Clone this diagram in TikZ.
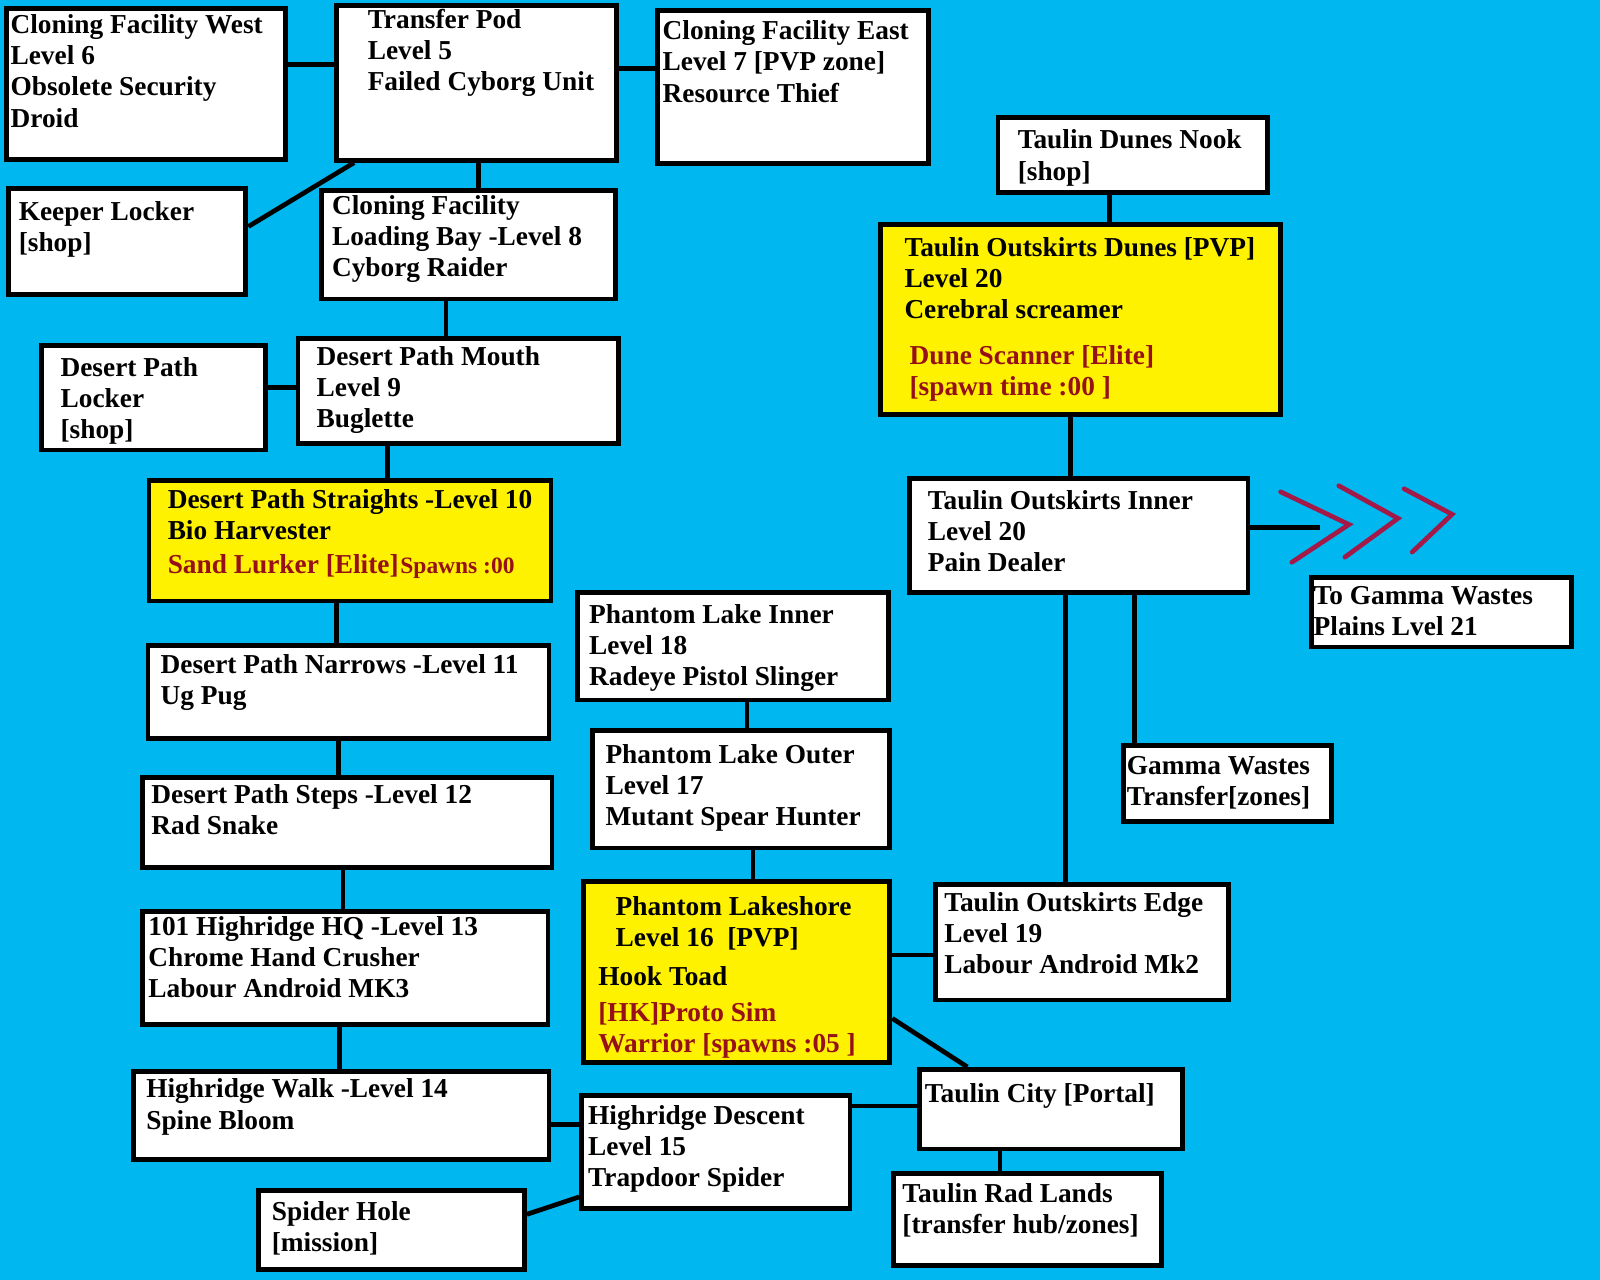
\documentclass[tikz,border=0pt]{standalone}
\usepackage{fontspec}
\setmainfont{Liberation Serif}
\usetikzlibrary{fit}
\definecolor{bgblue}{RGB}{0,183,239}
\definecolor{paintyellow}{RGB}{255,242,0}
\definecolor{elitered}{RGB}{150,16,24}
\definecolor{chevcol}{RGB}{163,25,72}
\tikzset{
  box/.style={draw=black, fill=white, line width=2.4pt, inner sep=0pt},
  ybox/.style={box, fill=paintyellow},
  txt/.style={font=\fontsize{13.4}{15.25}\selectfont\bfseries, align=left, inner sep=0pt, anchor=base west, text=black},
  redtxt/.style={txt, text=elitered},
  smallred/.style={txt, text=elitered, font=\fontsize{11.5}{13}\selectfont\bfseries},
  link/.style={draw=black, line width=2.3pt},
  chevron/.style={draw=chevcol, line width=2.3pt, line cap=round, line join=miter},
}
\begin{document}
\begin{tikzpicture}[x=0.5pt, y=-0.5pt]
\useasboundingbox (0,0) rectangle (1568,1254);
\fill[bgblue] (0,0) rectangle (1568,1254);

% ---- boxes ----
\node[box, fit={(6,8) (280,156)}] (cfw) {};
\node[box, fit={(330,5) (604,157)}] (tp) {};
\node[box, fit={(644,10) (910,160)}] (cfe) {};
\node[box, fit={(8,185) (241,289)}] (kl) {};
\node[box, fit={(315,187) (603,293)}] (cflb) {};
\node[box, fit={(41,339) (260,441)}] (dpl) {};
\node[box, fit={(292,332) (606,435)}] (dpm) {};
\node[ybox, fit={(146,471) (540,589)}] (dps) {};
\node[box, fit={(145,633) (538,724)}] (dpn) {};
\node[box, fit={(140,762) (541,850)}] (dpst) {};
\node[box, fit={(140,893) (537,1004)}] (hhq) {};
\node[box, fit={(131,1050) (538,1136)}] (hw) {};
\node[box, fit={(253,1167) (514,1244)}] (sh) {};
\node[box, fit={(570,1074) (833,1184)}] (hd) {};
\node[box, fit={(566,581) (871,686)}] (pli) {};
\node[box, fit={(581,716) (872,831)}] (plo) {};
\node[ybox, fit={(572,864) (872,1041)}] (pls) {};
\node[box, fit={(917,867) (1204,980)}] (toe) {};
\node[box, fit={(901,1048) (1159,1126)}] (tc) {};
\node[box, fit={(876,1150) (1138,1240)}] (trl) {};
\node[box, fit={(978,115) (1242,189)}] (tdn) {};
\node[ybox, fit={(863,220) (1255,406)}] (tod) {};
\node[box, fit={(891,469) (1223,581)}] (toi) {};
\node[box, fit={(1285,566) (1540,634)}] (tgw) {};
\node[box, fit={(1101,731) (1305,805)}] (gwt) {};

% ---- connectors between named boxes ----
\draw[link] (cfw.east |- 0,63) -- (tp.west |- 0,63);
\draw[link] (tp.east |- 0,67) -- (cfe.west |- 0,67);
\draw[link] (tp.south -| 347,0) -- (kl.east |- 0,222);
\draw[link] (tp.south -| 469,0) -- (cflb.north -| 469,0);
\draw[link] (cflb.south -| 437,0) -- (dpm.north -| 437,0);
\draw[link] (dpl.east |- 0,380) -- (dpm.west |- 0,380);
\draw[link] (dpm.south -| 380,0) -- (dps.north -| 380,0);
\draw[link] (dps.south -| 330,0) -- (dpn.north -| 330,0);
\draw[link] (dpn.south -| 332,0) -- (dpst.north -| 332,0);
\draw[link] (dpst.south -| 336,0) -- (hhq.north -| 336,0);
\draw[link] (hhq.south -| 333,0) -- (hw.north -| 333,0);
\draw[link] (hw.east |- 0,1102) -- (hd.west |- 0,1102);
\draw[link] (hd.west |- 0,1173) -- (sh.east |- 0,1190);
\draw[link] (hd.east |- 0,1084) -- (tc.west |- 0,1084);
\draw[link] (pli.south -| 732,0) -- (plo.north -| 732,0);
\draw[link] (plo.south -| 738,0) -- (pls.north -| 738,0);
\draw[link] (pls.east |- 0,936) -- (toe.west |- 0,936);
\draw[link] (pls.east |- 0,998) -- (tc.north -| 948,0);
\draw[link] (tc.south -| 980,0) -- (trl.north -| 980,0);
\draw[link] (tdn.south -| 1087,0) -- (tod.north -| 1087,0);
\draw[link] (tod.south -| 1049,0) -- (toi.north -| 1049,0);
\draw[link] (toi.south -| 1044,0) -- (toe.north -| 1044,0);
\draw[link] (toi.south -| 1112,0) -- (gwt.north -| 1112,0);
\coordinate (arrowend) at (1294,517);
\draw[link] (toi.east |- 0,517) -- (arrowend);

% chevrons
\draw[chevron] (1255,482) -- (1322,514) -- (1266,551);
\draw[chevron] (1312,476) -- (1370,508) -- (1318,546);
\draw[chevron] (1376,479) -- (1423,504) -- (1384,541);

% ---- texts (positioned at the baseline of their last line) ----
\node[txt] (cfwt) at (10,124.5) {Cloning Facility West\\Level 6\\Obsolete Security\\Droid};
\node[txt] (tpt) at (360,89) {Transfer Pod\\Level 5\\Failed Cyborg Unit};
\node[txt] (cfet) at (649,100) {Cloning Facility East\\Level 7 [PVP zone]\\Resource Thief};
\node[txt] (klt) at (18,246.5) {Keeper Locker\\{[shop]}};
\node[txt] (cflbt) at (325,271) {Cloning Facility\\Loading Bay -Level 8\\Cyborg Raider};
\node[txt] (dplt) at (59,430) {Desert Path\\Locker\\{[shop]}};
\node[txt] (dpmt) at (310,419) {Desert Path Mouth\\Level 9\\Buglette};
\node[txt] (dpst1) at (164,528.5) {Desert Path Straights -Level 10\\Bio Harvester};
\node[redtxt] (dpst2) at (164,562) {Sand Lurker [Elite]};
\node[smallred] (dpst3) at (392,562) {Spawns :00};
\node[txt] (dpnt) at (157,690.5) {Desert Path Narrows -Level 11\\Ug Pug};
\node[txt] (dpstt) at (148,817.5) {Desert Path Steps -Level 12\\Rad Snake};
\node[txt] (hhqt) at (145,978) {101 Highridge HQ -Level 13\\Chrome Hand Crusher\\Labour Android MK3};
\node[txt] (hwt) at (143,1106.5) {Highridge Walk -Level 14\\Spine Bloom};
\node[txt] (sht) at (266,1226.5) {Spider Hole\\{[mission]}};
\node[txt] (hdt) at (576,1163) {Highridge Descent\\Level 15\\Trapdoor Spider};
\node[txt] (plit) at (577,672) {Phantom Lake Inner\\Level 18\\Radeye Pistol Slinger};
\node[txt] (plot) at (593,809) {Phantom Lake Outer\\Level 17\\Mutant Spear Hunter};
\node[txt] (plst1) at (603,927.5) {Phantom Lakeshore\\Level 16~~[PVP]};
\node[txt] (plst2) at (586,966) {Hook Toad};
\node[redtxt] (plst3) at (586,1031.5) {{[HK]}Proto Sim\\Warrior [spawns :05 ]};
\node[txt] (toet) at (925,954) {Taulin Outskirts Edge\\Level 19\\Labour Android Mk2};
\node[txt] (tct) at (906,1080) {Taulin City [Portal]};
\node[txt] (trlt) at (884,1208.5) {Taulin Rad Lands\\{[transfer hub/zones]}};
\node[txt] (tdnt) at (997,176.5) {Taulin Dunes Nook\\{[shop]}};
\node[txt] (todt1) at (886,312) {Taulin Outskirts Dunes [PVP]\\Level 20\\Cerebral screamer};
\node[redtxt] (todt2) at (891,387.5) {Dune Scanner [Elite]\\{[spawn time :00 ]}};
\node[txt] (toit) at (909,560) {Taulin Outskirts Inner\\Level 20\\Pain Dealer};
\node[txt] (tgwt) at (1287,622.5) {To Gamma Wastes\\Plains Lvel 21};
\node[txt] (gwtt) at (1104,789.5) {Gamma Wastes\\Transfer[zones]};
\end{tikzpicture}
\end{document}
